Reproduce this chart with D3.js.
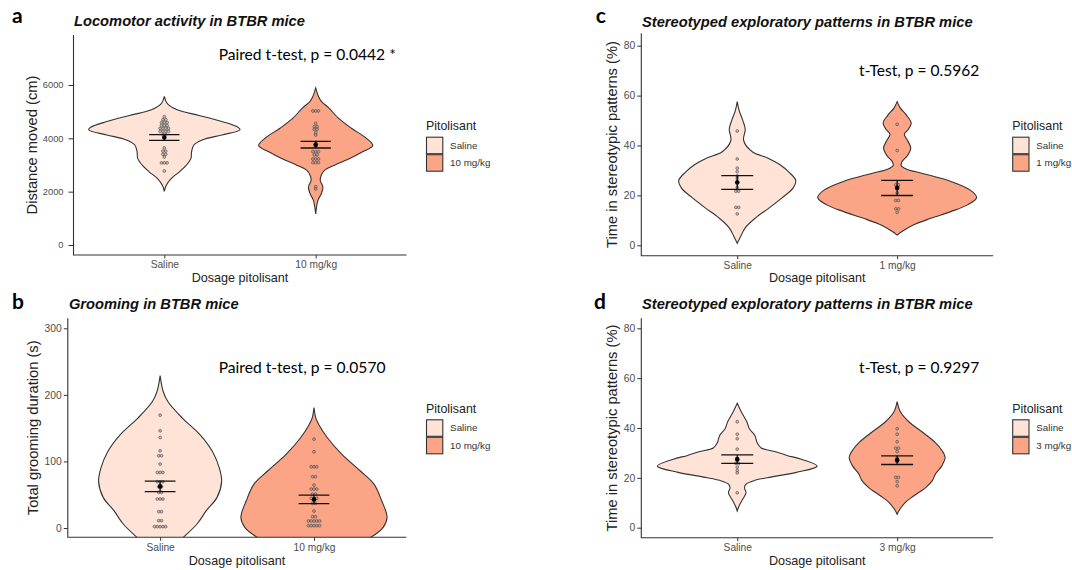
<!DOCTYPE html>
<html><head><meta charset="utf-8">
<script src="https://cdn.jsdelivr.net/npm/d3@7"></script>
<style>body{margin:0;background:#fff}svg{display:block}</style>
</head><body>
<svg id="chart" width="1072" height="570"></svg>
<script>
// ---------------- DATA ----------------
const panelLetters = ["a", "b", "c", "d"];
const panelTitles = ["Locomotor activity in BTBR mice", "Grooming in BTBR mice",
  "Stereotyped exploratory patterns in BTBR mice", "Stereotyped exploratory patterns in BTBR mice"];
const yAxisTitles = ["Distance moved (cm)", "Total grooming duration (s)",
  "Time in stereotypic patterns (%)", "Time in stereotypic patterns (%)"];
const xAxisTitle = "Dosage pitolisant";
const legendTitle = "Pitolisant";
const statLabels = ["Paired t-test, p = 0.0442 *", "Paired t-test, p = 0.0570",
  "t-Test, p = 0.5962", "t-Test, p = 0.9297"];

const groupsA = ["Saline", "10 mg/kg"];
const groupsB = ["Saline", "10 mg/kg"];
const groupsC = ["Saline", "1 mg/kg"];
const groupsD = ["Saline", "3 mg/kg"];

const ticksA = [0, 2000, 4000, 6000];
const ticksB = [0, 100, 200, 300];
const ticksC = [0, 20, 40, 60, 80];
const ticksD = [0, 20, 40, 60, 80];

// individual animals (dot-plot bins)
const pointsA_saline = [4812, 4700, 4700, 4590, 4590, 4590, 4480, 4480, 4480, 4375, 4375, 4375, 4375,
  4260, 4260, 4260, 4260, 4140, 4140, 3640, 3520, 3520, 3400, 3400, 3300, 3080, 3080, 3080, 2775];
const pointsA_dose = [5025, 5025, 5025, 4562, 4437, 4437, 4337, 4337, 4212, 4125, 3850, 3750, 3700,
  3500, 3500, 3500, 3375, 3375, 3225, 3225, 3225, 3087, 3087, 3087, 2187, 2100];
const pointsB_saline = [169.5, 146, 136, 116, 108.5, 108.5, 96, 83.5, 83.5, 83.5, 69.5, 69.5, 69.5,
  62, 62, 53.5, 53.5, 43.5, 43.5, 43.5, 24.5, 24.5, 11, 11, 2, 2, 2, 2, 2];
const pointsB_dose = [133.5, 114.5, 92, 92, 92, 77, 77, 64.5, 58.5, 58.5, 58.5, 51, 51, 44.5, 44.5, 44.5,
  37, 37, 25.5, 17, 17, 10.5, 10.5, 10.5, 10.5, 10.5, 3.5, 3.5, 3.5, 3.5, 3.5];
const pointsC_saline = [45.8, 34.6, 30.9, 29.5, 27.8, 26.8, 25.5, 23.2, 21.7, 21.7, 15.2, 15.2, 12.6];
const pointsC_dose = [48.5, 38, 24.2, 24.2, 23, 21, 18, 18, 14.6, 14.6, 13.2];
const pointsD_saline = [42.5, 37.5, 35.7, 31.5, 27.5, 27, 25.8, 25.8, 24.3, 23, 22, 14];
const pointsD_dose = [39.7, 37.5, 34.5, 31.9, 31.9, 30.5, 28, 26.5, 20.2, 20.2, 18.5, 16.8];

// mean and SEM per group
const meanA = [4031, 3762], semA = [106, 125];
const meanB = [62.5, 43], semB = [8, 6.5];
const meanC = [25.2, 23], semC = [2.75, 3.05];
const meanD = [27.5, 27.1], semD = [1.7, 1.75];

// violin outlines: [value, half-width as fraction of group spacing]
const violinA_saline = [[5575,0],[5300,0.02],[5071,0.085],[4857,0.23],[4631,0.38],[4404,0.49],[4316,0.5],
  [4127,0.38],[3938,0.25],[3750,0.195],[3498,0.18],[3246,0.176],[2994,0.146],[2743,0.10],[2491,0.045],[2239,0.013],[2011,0]];
const violinA_dose = [[5890,0],[5575,0.018],[5386,0.037],[5134,0.088],[4757,0.15],[4379,0.236],[4001,0.335],
  [3724,0.377],[3498,0.31],[3246,0.225],[2994,0.125],[2806,0.06],[2617,0.037],[2428,0.03],[2176,0.048],[1924,0.037],[1672,0.015],[1168,0]];
const violinB_saline = [[229,0],[205,0.02],[190,0.05],[165,0.145],[140,0.26],[115,0.34],[90,0.385],[70,0.40],
  [46,0.37],[26,0.30],[6,0.24],[-14,0.15],[-30,0.07],[-45,0]];
const violinB_dose = [[181,0],[165,0.012],[156,0.03],[136,0.086],[111,0.18],[86,0.30],[66,0.39],[41,0.44],
  [16,0.475],[1,0.45],[-14,0.37],[-30,0.25],[-50,0.08],[-65,0]];
const violinC_saline = [[57.6,0],[54,0.012],[50,0.035],[46.5,0.05],[42,0.04],[37.5,0.094],[35,0.19],[32.2,0.27],
  [29.5,0.32],[26,0.366],[23,0.35],[19,0.28],[15,0.2],[11,0.115],[7,0.05],[3,0.017],[0.8,0]];
const violinC_dose = [[57.6,0],[55,0.02],[52,0.06],[49,0.088],[46.5,0.07],[44.5,0.045],[42,0.065],[39,0.085],
  [36,0.065],[33.5,0.03],[32,0.025],[30.5,0.06],[28.8,0.16],[25.5,0.34],[22,0.46],[19.1,0.497],[16.2,0.44],
  [13.5,0.335],[10.8,0.21],[8.1,0.1],[5.5,0.03],[4.1,0]];
const violinD_saline = [[49.9,0],[46.5,0.025],[42.5,0.06],[39.8,0.075],[37,0.11],[34,0.125],[32,0.15],[30.5,0.24],
  [29,0.31],[27.5,0.40],[24.7,0.5],[22.2,0.37],[20.2,0.2],[19,0.11],[17.5,0.055],[16,0.045],[14,0.055],[11,0.03],[8.5,0.01],[6.7,0]];
const violinD_dose = [[50.6,0],[46.5,0.02],[42.5,0.073],[38.4,0.157],[34.4,0.234],[31,0.28],[28.3,0.30],[24.9,0.28],
  [21.6,0.24],[18.9,0.22],[16.2,0.18],[12.8,0.105],[10.1,0.05],[7.4,0.017],[5.4,0]];

// ---------------- LAYOUT / STYLE ----------------
const fills = ["#FEE3D6", "#FCA486"];
const AX = "'Liberation Sans', Arial, Helvetica, sans-serif";
const CAL = "Lato, 'Open Sans', sans-serif";

const panels = [
  {groups: groupsA, ticks: ticksA, pts: [pointsA_saline, pointsA_dose], vio: [violinA_saline, violinA_dose], mean: meanA, sem: semA,
   L: {x0: 73.5, x1: 406.5, top: 35, bottom: 255, zeroPx: 245, maxPx: 85, titleX: 74, titleY: 26, letterX: 12, letterY: 23.3,
       statX: 218.7, statY: 60.3, statW: 177.3, yTitleX: 37, xTitleY: 282.4, legX: 426, legTitleY: 130, keyTop: 136.7,
       yTickFont: 9.3, yTickSize: 5, yTickPad: 5}},
  {groups: groupsB, ticks: ticksB, pts: [pointsB_saline, pointsB_dose], vio: [violinB_saline, violinB_dose], mean: meanB, sem: semB,
   L: {x0: 67.8, x1: 406.3, top: 318.3, bottom: 537.3, zeroPx: 528, maxPx: 328.3, titleX: 68.9, titleY: 309, letterX: 12, letterY: 308.5,
       statX: 218.7, statY: 373.3, statW: 167, yTitleX: 37.6, xTitleY: 565, legX: 426, legTitleY: 412.5, keyTop: 419.3,
       yTickFont: 10.3, yTickSize: 4, yTickPad: 2}},
  {groups: groupsC, ticks: ticksC, pts: [pointsC_saline, pointsC_dose], vio: [violinC_saline, violinC_dose], mean: meanC, sem: semC,
   L: {x0: 641.3, x1: 993.1, top: 33.3, bottom: 255.7, zeroPx: 245.3, maxPx: 45.7, titleX: 642, titleY: 26.5, letterX: 595.8, letterY: 23.3,
       statX: 859.1, statY: 76, statW: 120.3, yTitleX: 616.8, xTitleY: 282.3, legX: 1012.2, legTitleY: 130, keyTop: 136.7,
       yTickFont: 10.3, yTickSize: 4, yTickPad: 2}},
  {groups: groupsD, ticks: ticksD, pts: [pointsD_saline, pointsD_dose], vio: [violinD_saline, violinD_dose], mean: meanD, sem: semD,
   L: {x0: 641.3, x1: 993.1, top: 318.3, bottom: 537.7, zeroPx: 527.7, maxPx: 328.3, titleX: 642, titleY: 309, letterX: 594.1, letterY: 308.5,
       statX: 859.1, statY: 373.3, statW: 120.3, yTitleX: 616.8, xTitleY: 565, legX: 1012.2, legTitleY: 412.5, keyTop: 419.3,
       yTickFont: 10.3, yTickSize: 4, yTickPad: 2}}
];

const svg = d3.select("#chart");

panels.forEach((p, i) => {
  const L = p.L;
  const g = svg.append("g");
  const x = d3.scalePoint().domain(p.groups).range([L.x0, L.x1]).padding(0.6);
  const step = x.step();
  const tmax = d3.max(p.ticks);
  const y = d3.scaleLinear().domain([0, tmax]).range([L.zeroPx, L.maxPx]);

  // clip
  const cid = "clip" + i;
  svg.append("clipPath").attr("id", cid).append("rect")
    .attr("x", L.x0).attr("y", L.top).attr("width", L.x1 - L.x0).attr("height", L.bottom - L.top);
  const plot = g.append("g").attr("clip-path", `url(#${cid})`);

  // violins
  p.groups.forEach((grp, k) => {
    const cx = x(grp);
    const area = d3.area()
      .y(d => y(d[0]))
      .x0(d => cx - d[1] * step)
      .x1(d => cx + d[1] * step)
      .curve(d3.curveCatmullRom.alpha(0.5));
    plot.append("path").datum(p.vio[k]).attr("d", area)
      .attr("fill", fills[k]).attr("stroke", "#333").attr("stroke-width", 1.1);
  });

  // dots (centred stacks)
  const dotD = 2.8;
  p.groups.forEach((grp, k) => {
    const cx = x(grp);
    const bins = d3.groups(p.pts[k], v => v);
    bins.forEach(([v, arr]) => {
      const n = arr.length;
      arr.forEach((_, j) => {
        plot.append("circle")
          .attr("cx", cx + (j - (n - 1) / 2) * dotD)
          .attr("cy", y(v)).attr("r", 1.4)
          .attr("fill", "#9a9a9a").attr("fill-opacity", 0.55)
          .attr("stroke", "#3a3a3a").attr("stroke-width", 0.6).attr("stroke-opacity", 0.9);
      });
    });
  });

  // error bars + mean
  p.groups.forEach((grp, k) => {
    const cx = x(grp);
    const hi = y(p.mean[k] + p.sem[k]), lo = y(p.mean[k] - p.sem[k]);
    const hw = 0.1 * step;
    const eb = plot.append("g").attr("stroke", "#111").attr("stroke-width", 1.3);
    eb.append("line").attr("x1", cx - hw).attr("x2", cx + hw).attr("y1", hi).attr("y2", hi);
    eb.append("line").attr("x1", cx - hw).attr("x2", cx + hw).attr("y1", lo).attr("y2", lo);
    eb.append("line").attr("x1", cx).attr("x2", cx).attr("y1", hi).attr("y2", lo);
    plot.append("circle").attr("cx", cx).attr("cy", y(p.mean[k])).attr("r", 2.3).attr("fill", "#000");
  });

  // axes
  const yAxis = d3.axisLeft(y).tickValues(p.ticks).tickFormat(d3.format("d"))
    .tickSize(L.yTickSize).tickPadding(L.yTickPad).tickSizeOuter(0);
  const ya = g.append("g").attr("transform", `translate(${L.x0},0)`).call(yAxis);
  ya.select(".domain").remove();
  ya.selectAll("line").attr("stroke", "#333");
  ya.selectAll("text").attr("font-family", AX).attr("font-size", L.yTickFont).attr("fill", "#4d4d4d");

  const xAxis = d3.axisBottom(x).tickSize(3.5).tickPadding(2.5).tickSizeOuter(0);
  const xa = g.append("g").attr("transform", `translate(0,${L.bottom})`).call(xAxis);
  xa.select(".domain").remove();
  xa.selectAll("line").attr("stroke", "#333");
  xa.selectAll("text").attr("font-family", AX).attr("font-size", 10.2).attr("fill", "#4d4d4d");

  g.append("path").attr("d", `M${L.x0},${L.top}V${L.bottom}H${L.x1}`)
    .attr("fill", "none").attr("stroke", "#333").attr("stroke-width", 1.1);

  // axis titles
  g.append("text").attr("x", (L.x0 + L.x1) / 2).attr("y", L.xTitleY).attr("text-anchor", "middle")
    .attr("font-family", AX).attr("font-size", 12.6).attr("fill", "#222").text(xAxisTitle);
  g.append("text").attr("transform", `translate(${L.yTitleX},${(L.top + L.bottom) / 2}) rotate(-90)`)
    .attr("text-anchor", "middle").attr("font-family", AX).attr("font-size", 14.7).attr("fill", "#222")
    .text(yAxisTitles[i]);

  // title and panel letter
  g.append("text").attr("x", L.titleX).attr("y", L.titleY).attr("font-family", AX)
    .attr("font-size", 14.7).attr("font-weight", "bold").attr("font-style", "italic").attr("fill", "#111")
    .text(panelTitles[i]);
  g.append("text").attr("x", L.letterX).attr("y", L.letterY).attr("font-family", CAL)
    .attr("font-size", 21).attr("font-weight", "bold").attr("fill", "#000").text(panelLetters[i]);

  // stat label, fitted to the reference width
  const st = g.append("text").attr("x", L.statX).attr("y", L.statY).attr("font-family", CAL)
    .attr("font-size", 16).attr("fill", "#000").text(statLabels[i]);
  const w = st.node().getComputedTextLength();
  if (w > 0) st.attr("font-size", 16 * L.statW / w);

  // legend
  const lg = g.append("g");
  lg.append("text").attr("x", L.legX).attr("y", L.legTitleY).attr("font-family", AX)
    .attr("font-size", 12.4).attr("fill", "#222").text(legendTitle);
  const kw = 17.3, kh = 17.5;
  p.groups.forEach((grp, k) => {
    lg.append("rect").attr("x", L.legX + 0.5).attr("y", L.keyTop + k * kh + 0.5)
      .attr("width", kw - 1).attr("height", kh - 1)
      .attr("fill", fills[k]).attr("stroke", "#333").attr("stroke-width", 1.1);
    lg.append("text").attr("x", L.legX + kw + 6.8).attr("y", L.keyTop + k * kh + kh / 2 + 3.4)
      .attr("font-family", AX).attr("font-size", 9.8).attr("fill", "#333").text(grp);
  });
});
</script>
</body></html>
